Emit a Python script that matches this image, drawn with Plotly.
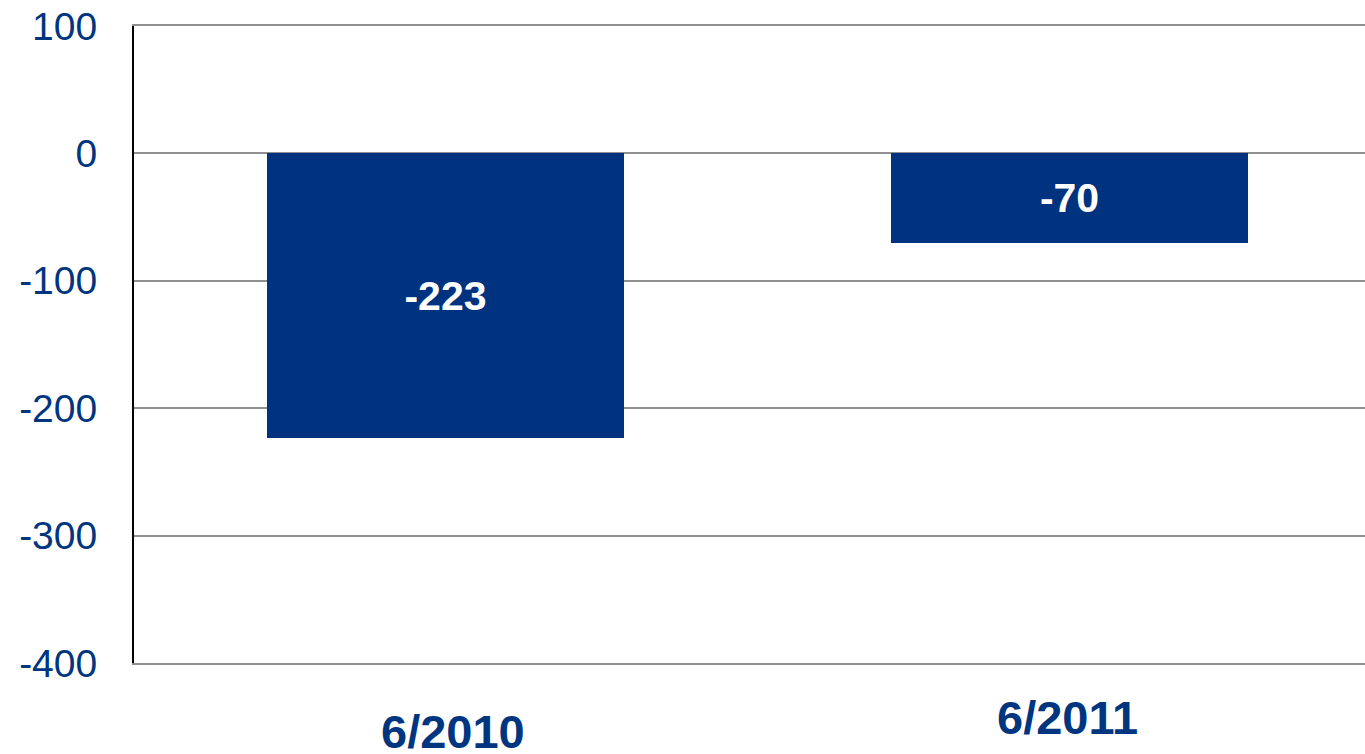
import plotly.graph_objects as go

categories = ["6/2010", "6/2011"]
values = [-223, -70]
bar_labels = ["-223", "-70"]
y_ticks = [100, 0, -100, -200, -300, -400]

NAVY = "#00337F"
TEXT = "#003580"
GRID = "#8f8f8f"

fig = go.Figure()
fig.add_trace(go.Bar(
    x=[0, 1], y=values,
    width=0.572,
    marker=dict(color=NAVY, line=dict(width=0)),
    text=bar_labels, textposition="inside", insidetextanchor="middle",
    textfont=dict(family="Liberation Sans, Arial", size=41, color="white", weight="bold"),
    textangle=0,
    hoverinfo="skip",
))

label_y = [-0.108, -0.086]
label_dx = [8, -2]
for i, (c, ly, dx) in enumerate(zip(categories, label_y, label_dx)):
    fig.add_annotation(
        x=i, xref="x", y=ly, yref="paper", text="<b>%s</b>" % c,
        showarrow=False, xanchor="center", yanchor="middle", xshift=dx,
        font=dict(family="Liberation Sans Narrow, Arial Narrow, Liberation Sans, Arial", size=47, color=TEXT),
    )

fig.update_layout(
    width=1365, height=754,
    margin=dict(l=134, r=0, t=26, b=91, autoexpand=False),
    paper_bgcolor="white", plot_bgcolor="white",
    showlegend=False, bargap=0,
    uniformtext=dict(mode="show", minsize=10),
    xaxis=dict(range=[-0.499, 1.474], showticklabels=False, showgrid=False,
               zeroline=False, showline=True, mirror=True, linecolor=GRID, linewidth=2,
               fixedrange=True, automargin=False),
    yaxis=dict(range=[-400, 100], tickvals=y_ticks, ticktext=[str(v) for v in y_ticks],
               showgrid=True, gridcolor=GRID, gridwidth=2,
               zeroline=True, zerolinecolor=GRID, zerolinewidth=2,
               showline=True, linecolor="#000000", linewidth=2,
               ticks="", ticklabelstandoff=27, automargin=False,
               tickfont=dict(family="Liberation Sans, Arial", size=39, color=TEXT)),
)

fig.write_html(
    "out.html",
    config={"displayModeBar": False},
    post_script="document.body.style.margin='0';document.body.style.overflow='hidden';",
)
